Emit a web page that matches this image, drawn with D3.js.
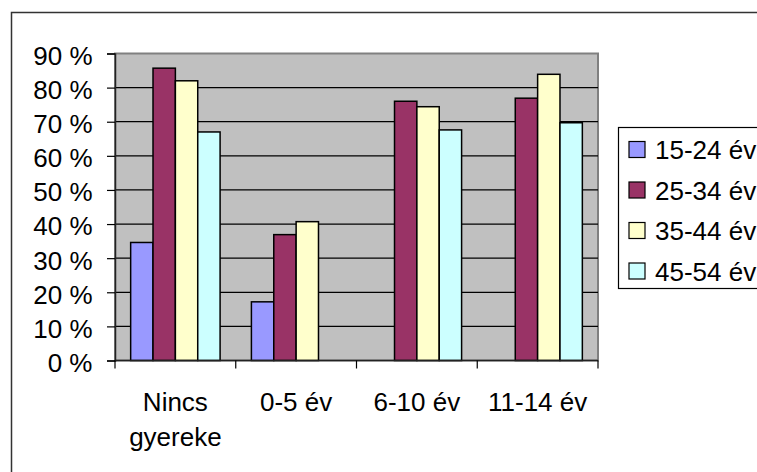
<!DOCTYPE html>
<html>
<head>
<meta charset="utf-8">
<script src="https://cdn.jsdelivr.net/npm/d3@7"></script>
<style>
  body { margin: 0; background: #fff; }
  svg text { font-family: "Liberation Sans", Arial, sans-serif; font-size: 26px; fill: #000; }
</style>
</head>
<body>
<svg id="chart" width="757" height="472"></svg>
<script>
// categories on the x axis (each entry is the lines of its label)
const categories = ["Nincs gyereke", "0-5 év", "6-10 év", "11-14 év"];
const categoryLines = [["Nincs", "gyereke"], ["0-5 év"], ["6-10 év"], ["11-14 év"]];

// age groups (series)
const seriesNames = ["15-24 év", "25-34 év", "35-44 év", "45-54 év"];
const seriesColors = ["#9999FF", "#993366", "#FFFFCC", "#CCFFFF"];

// share per category, null where no bar is drawn
const v1524 = [0.346, 0.172, null, null];
const v2534 = [0.857, 0.369, 0.760, 0.769];
const v3544 = [0.820, 0.407, 0.744, 0.839];
const v4554 = [0.670, null, 0.676, 0.697];

const yTicks = [0, 0.1, 0.2, 0.3, 0.4, 0.5, 0.6, 0.7, 0.8, 0.9];

const seriesValues = [v1524, v2534, v3544, v4554];

const svg = d3.select('#chart');
const plot = { left: 115, right: 598, top: 53.5, bottom: 360.5 };

// outer chart frame (runs off the right and bottom edge)
svg.append('rect')
  .attr('x', 11.5).attr('y', 12.5)
  .attr('width', 900).attr('height', 600)
  .attr('fill', 'none').attr('stroke', '#333').attr('stroke-width', 1.5);

const x0 = d3.scaleBand().domain(categories).range([plot.left, plot.right]).padding(0);
const x1 = d3.scaleBand().domain(seriesNames).range([0, x0.bandwidth()])
  .paddingInner(0).paddingOuter(0.7);
const y = d3.scaleLinear().domain([0, 0.9]).range([plot.bottom, plot.top]);

// plot area
svg.append('rect')
  .attr('x', plot.left).attr('y', plot.top)
  .attr('width', plot.right - plot.left).attr('height', plot.bottom - plot.top)
  .attr('fill', '#C0C0C0').attr('stroke', '#808080').attr('stroke-width', 2);

// gridlines
svg.append('g')
  .selectAll('line')
  .data(yTicks.filter(d => d > 0 && d < 0.9))
  .enter().append('line')
  .attr('x1', plot.left).attr('x2', plot.right)
  .attr('y1', d => y(d)).attr('y2', d => y(d))
  .attr('stroke', '#000').attr('stroke-width', 1.2);

// bars
const rows = [];
categories.forEach((c, i) => {
  seriesNames.forEach((s, j) => {
    if (seriesValues[j][i] != null) rows.push({ c: c, s: s, j: j, v: seriesValues[j][i] });
  });
});

svg.append('g')
  .selectAll('rect')
  .data(rows)
  .enter().append('rect')
  .attr('x', d => x0(d.c) + x1(d.s))
  .attr('y', d => y(d.v))
  .attr('width', x1.bandwidth())
  .attr('height', d => y(0) - y(d.v))
  .attr('fill', d => seriesColors[d.j])
  .attr('stroke', '#000').attr('stroke-width', 1.5);

// y axis
const yAxis = svg.append('g')
  .attr('transform', `translate(${plot.left},0)`)
  .call(d3.axisLeft(y).tickValues(yTicks).tickSize(8).tickPadding(14.5)
    .tickFormat(d => Math.round(d * 100) + ' %'));
yAxis.select('.domain').attr('stroke', '#222').attr('stroke-width', 1.5);
yAxis.selectAll('.tick line').attr('stroke', '#000').attr('stroke-width', 1.2);
yAxis.selectAll('.tick text').attr('dy', '0.42em')
  .style('font-family', '"Liberation Sans", Arial, sans-serif').style('font-size', '26px').attr('fill', '#000');

// x axis: line plus ticks at the category boundaries
const xAxis = svg.append('g').attr('transform', `translate(0,${plot.bottom})`);
xAxis.append('line')
  .attr('x1', plot.left).attr('x2', plot.right)
  .attr('stroke', '#222').attr('stroke-width', 1.5);
xAxis.selectAll('line.tk')
  .data(categories.map(c => x0(c)).concat([plot.right]))
  .enter().append('line')
  .attr('class', 'tk')
  .attr('x1', d => d).attr('x2', d => d)
  .attr('y1', 0).attr('y2', 8)
  .attr('stroke', '#000').attr('stroke-width', 1.2);

xAxis.selectAll('text.lbl')
  .data(categories)
  .enter().append('text')
  .attr('class', 'lbl')
  .attr('text-anchor', 'middle')
  .each(function(d, i) {
    const t = d3.select(this);
    categoryLines[i].forEach((line, k) => {
      t.append('tspan')
        .attr('x', x0(d) + x0.bandwidth() / 2)
        .attr('y', 50.5 + k * 35)
        .text(line);
    });
  });

// legend (cut off by the right edge, like the original)
const legend = svg.append('g').attr('transform', 'translate(618.5,127.5)');
legend.append('rect')
  .attr('width', 300).attr('height', 161)
  .attr('fill', '#fff').attr('stroke', '#000').attr('stroke-width', 1.2);

const items = legend.selectAll('g.item')
  .data(seriesNames)
  .enter().append('g')
  .attr('class', 'item')
  .attr('transform', (d, i) => `translate(10.5,${14 + i * 40.5})`);

items.append('rect')
  .attr('width', 16).attr('height', 16)
  .attr('fill', (d, i) => seriesColors[i])
  .attr('stroke', '#000').attr('stroke-width', 1.2);

items.append('text')
  .attr('x', 26).attr('y', 17.5)
  .text(d => d);
</script>
</body>
</html>
